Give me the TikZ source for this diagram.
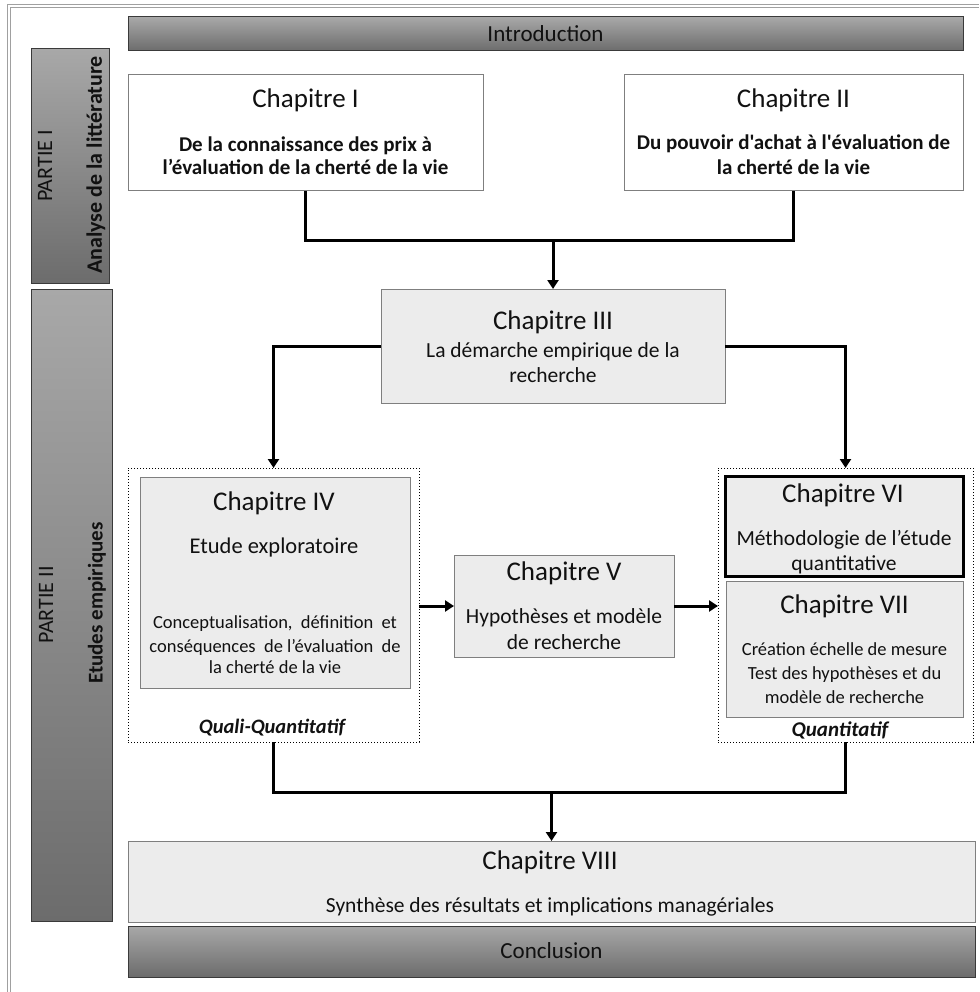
\documentclass[tikz,border=0pt]{standalone}
\usepackage{fontspec}
\setmainfont{Carlito}[Ligatures=TeXOff]
\usetikzlibrary{arrows.meta}
\definecolor{boxfill}{HTML}{ECECEC}
\definecolor{boxline}{HTML}{7F7F7F}
\definecolor{bartop}{HTML}{A8A8A8}
\definecolor{barbot}{HTML}{6C6C6C}
\definecolor{barline}{HTML}{3A3A3A}
\definecolor{framecol}{HTML}{A0A0A0}
\definecolor{ink}{HTML}{111111}
\begin{document}
\begin{tikzpicture}[x=1pt,y=-1pt,
  every node/.style={inner sep=0pt, outer sep=0pt, text=ink},
  box/.style={draw=boxline, line width=1pt, fill=boxfill, rectangle},
  whitebox/.style={draw=boxline, line width=1pt, fill=white, rectangle},
  bar/.style={draw=barline, line width=1pt, top color=bartop, bottom color=barbot, rectangle},
  group/.style={draw=black, line width=1pt, dotted, rectangle},
  txt/.style={anchor=base},
  fTitle/.style={font=\fontsize{27}{30}\selectfont},
  fSubB/.style={font=\bfseries\fontsize{21}{24}\selectfont},
  fSub/.style={font=\fontsize{21.5}{24}\selectfont},
  fSmall/.style={font=\fontsize{18.5}{22}\selectfont},
  link/.style={draw=black, line width=3pt, line join=miter},
  arrow/.style={link, -{Triangle[width=11pt,length=9pt]}}
]
\useasboundingbox (0,0) rectangle (979,992);
% outer frame
\draw[framecol, line width=1pt] (7,992) -- (7,5) -- (979,5);
\draw[framecol, line width=1pt] (10,992) -- (10,8) -- (979,8);

% bars
\node[bar, minimum width=835pt, minimum height=34pt] (intro) at (545.5,34) {};
\node[txt, font=\fontsize{23}{26}\selectfont] (introt) at (545.5,42) {Introduction};
\node[bar, minimum width=78pt, minimum height=234pt] (p1) at (70,166) {};
\node[rotate=90, font=\fontsize{22}{24}\selectfont] (p1a) at (45,166) {PARTIE I};
\node[rotate=90, font=\bfseries\fontsize{22}{24}\selectfont] (p1b) at (96,165) {Analyse de la littérature};
\node[bar, minimum width=81pt, minimum height=632pt] (p2) at (71.5,605) {};
\node[rotate=90, font=\fontsize{22}{24}\selectfont] (p2a) at (46,605) {PARTIE II};
\node[rotate=90, font=\bfseries\fontsize{21}{24}\selectfont] (p2b) at (97,603) {Etudes empiriques};
\node[bar, minimum width=847pt, minimum height=51pt] (concl) at (551.5,951.5) {};
\node[txt, font=\fontsize{23}{26}\selectfont] (conclt) at (551.5,958) {Conclusion};

% Chapitre I and II
\node[whitebox, minimum width=355pt, minimum height=116pt] (ch1) at (305.5,133) {};
\node[txt, fTitle] (ch1t) at (305.5,108) {Chapitre I};
\node[txt, fSubB] (ch1a) at (305.5,152) {De la connaissance des prix à};
\node[txt, fSubB] (ch1b) at (305.5,175) {l’évaluation de la cherté de la vie};
\node[whitebox, minimum width=339pt, minimum height=116pt] (ch2) at (793.5,133) {};
\node[txt, fTitle] (ch2t) at (793.5,108) {Chapitre II};
\node[txt, fSubB] (ch2a) at (793.5,150) {Du pouvoir d'achat à l'évaluation de};
\node[txt, fSubB] (ch2b) at (793.5,175) {la cherté de la vie};

% Chapitre III
\node[box, minimum width=344pt, minimum height=114pt] (ch3) at (553,346) {};
\node[txt, fTitle] (ch3t) at (553,329) {Chapitre III};
\node[txt, fSub] (ch3a) at (553,357) {La démarche empirique de la};
\node[txt, fSub] (ch3b) at (553,382) {recherche};

% left group
\node[group, minimum width=291pt, minimum height=274pt] (grpL) at (273.5,605) {};
\node[box, minimum width=270pt, minimum height=211pt] (ch4) at (275,582.5) {};
\node[txt, fTitle] (ch4t) at (274,510) {Chapitre IV};
\node[txt, font=\fontsize{22.5}{24}\selectfont] (ch4a) at (274,553) {Etude exploratoire};
\node[txt, fSmall] (ch4b) at (275,628) {Conceptualisation, \ définition \ et};
\node[txt, fSmall] (ch4c) at (275,652) {conséquences \ de l’évaluation \ de};
\node[txt, fSmall] (ch4d) at (275,673) {la cherté de la vie};
\node[txt, font=\bfseries\itshape\fontsize{20.5}{22}\selectfont] (qq) at (272,733) {Quali-Quantitatif};

% Chapitre V
\node[box, minimum width=220pt, minimum height=102pt] (ch5) at (564,606) {};
\node[txt, fTitle] (ch5t) at (564,580) {Chapitre V};
\node[txt, fSub] (ch5a) at (564,623) {Hypothèses et modèle};
\node[txt, fSub] (ch5b) at (564,649) {de recherche};

% right group
\node[group, minimum width=255pt, minimum height=274pt] (grpR) at (845.5,605) {};
\node[box, draw=black, line width=3pt, minimum width=238pt, minimum height=100pt] (ch6) at (844,526) {};
\node[txt, fTitle] (ch6t) at (843,502) {Chapitre VI};
\node[txt, fSub] (ch6a) at (844,545) {Méthodologie de l’étude};
\node[txt, fSub] (ch6b) at (844,570) {quantitative};
\node[box, minimum width=237pt, minimum height=136pt] (ch7) at (844.5,649) {};
\node[txt, fTitle] (ch7t) at (844.5,613) {Chapitre VII};
\node[txt, fSmall] (ch7a) at (844.5,655) {Création échelle de mesure};
\node[txt, fSmall] (ch7b) at (844.5,679) {Test des hypothèses et du};
\node[txt, fSmall] (ch7c) at (844.5,703) {modèle de recherche};
\node[txt, font=\bfseries\itshape\fontsize{21}{22}\selectfont] (qt) at (840,736) {Quantitatif};

% Chapitre VIII
\node[box, minimum width=847pt, minimum height=81pt] (ch8) at (551.5,881.5) {};
\node[txt, fTitle] (ch8t) at (550,869) {Chapitre VIII};
\node[txt, font=\fontsize{21.5}{24}\selectfont] (ch8a) at (550,912) {Synthèse des résultats et implications managériales};

% connectors
\coordinate (j1) at (553,240);
\draw[link] (ch1.south) |- (j1) -| (ch2.south);
\draw[arrow] (j1) -- (ch3.north);
\draw[arrow] (ch3.west) -| (grpL.north);
\draw[arrow] (ch3.east) -| (grpR.north);
\draw[arrow] (grpL.east |- ch5.west) -- (ch5.west);
\draw[arrow] (ch5.east) -- (ch5.east -| grpR.west);
\coordinate (j2) at (551.5,792);
\draw[link] (grpL.south) |- (j2) -| (grpR.south);
\draw[arrow] (j2) -- (ch8.north);
\end{tikzpicture}
\end{document}
